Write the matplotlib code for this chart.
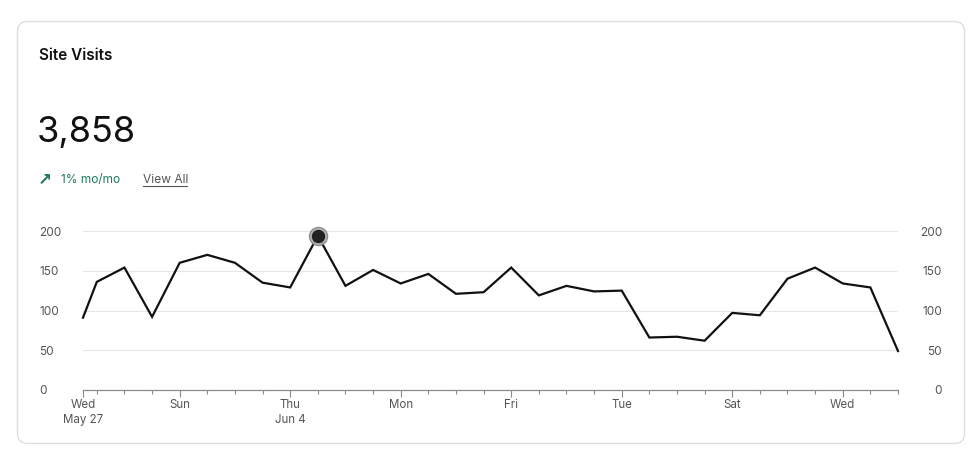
import matplotlib
matplotlib.use("Agg")
import matplotlib.pyplot as plt
import matplotlib.dates as mdates
from matplotlib.patches import FancyBboxPatch
from matplotlib.lines import Line2D
import numpy as np

# ---- data ----
start_time = "2026-05-27T12:00"
daily_start = "2026-05-28"
visits = [91, 136, 154, 92, 160, 170, 160, 135, 129, 194, 131,
          151, 134, 146, 121, 123, 154, 119, 131, 124, 125, 66,
          67, 62, 97, 94, 140, 154, 134, 129, 49]
tick_dates = ["2026-05-27T12:00", "2026-05-31", "2026-06-04", "2026-06-08",
              "2026-06-12", "2026-06-16", "2026-06-20", "2026-06-24"]
tick_labels = ["Wed\nMay 27", "Sun", "Thu\nJun 4", "Mon", "Fri", "Tue", "Sat", "Wed"]
y_ticks = [0, 50, 100, 150, 200]
title = "Site Visits"
total = "3,858"
change = "1% mo/mo"
link = "View All"
peak_index = 9

def to_num(arr):
    return mdates.date2num(np.asarray(arr).astype("datetime64[ms]").astype(object))

dates = np.concatenate([
    np.array([start_time], dtype="datetime64[m]"),
    np.arange(np.datetime64(daily_start), np.datetime64(daily_start) + np.timedelta64(len(visits) - 1, "D"),
              np.timedelta64(1, "D")).astype("datetime64[m]"),
])
x = to_num(dates)
tx = to_num(np.array(tick_dates, dtype="datetime64[m]"))

W, H = 977, 466
plt.rcParams['font.family'] = ['Inter', 'DejaVu Sans']
fig = plt.figure(figsize=(W / 100, H / 100), dpi=100)
fig.patch.set_facecolor("white")

# card
card = FancyBboxPatch((17.5, 22.5), 947, 422, boxstyle="round,pad=0,rounding_size=10",
                      transform=None, facecolor="white", edgecolor="#dedede", linewidth=1.0, zorder=-5)
fig.patches.append(card)

def fx(px):
    return px / W

def fy(py):
    return 1 - py / H

fig.text(fx(39), fy(56), title, fontsize=11, fontweight="semibold", color="#111111", va="center", ha="left")
fig.text(fx(37), fy(133), total, fontsize=26, color="#111111", va="center", ha="left")
fig.text(fx(38), fy(180), "\u2197", fontsize=12, fontweight="bold", color="#1b7a55", va="center", ha="left",
         family=["DejaVu Sans"])
fig.text(fx(61), fy(180), change, fontsize=8.6, color="#1b7a55", va="center", ha="left")
fig.text(fx(143), fy(180), link, fontsize=8.6, color="#555555", va="center", ha="left")
fig.add_artist(Line2D([fx(143), fx(187)], [fy(186), fy(186)], color="#555555", linewidth=0.8,
                      transform=fig.transFigure))

# axes
ax = fig.add_axes([fx(83), fy(390), fx(898) - fx(83), (390 - 231) / H])
ax.set_facecolor("none")
ax.plot(x, visits, color="#111111", linewidth=1.6, solid_joinstyle="miter", zorder=3, clip_on=False)
ax.scatter([x[peak_index]], [visits[peak_index]], s=170, color="#b0b0b0", edgecolor="#888888",
           linewidth=1.0, zorder=4, clip_on=False, alpha=0.9)
ax.scatter([x[peak_index]], [visits[peak_index]], s=75, color="#222222", zorder=5, clip_on=False)

ax.set_xlim(x[0], x[-1])
ax.set_ylim(0, 200)
ax.set_yticks(y_ticks)
ax.set_yticklabels([str(v) for v in y_ticks])
for v in y_ticks[1:]:
    ax.axhline(v, color="#e6e6e6", linewidth=0.8, zorder=1)

for s in ["top", "left", "right"]:
    ax.spines[s].set_visible(False)
ax.spines["bottom"].set_color("#8a8a8a")
ax.spines["bottom"].set_linewidth(0.9)

ax.tick_params(axis="y", length=0, labelsize=8.5, labelcolor="#555555", labelleft=True, labelright=True,
               pad=44 * 0.72)
for t in ax.yaxis.get_major_ticks():
    t.label1.set_horizontalalignment("left")
    t.label2.set_horizontalalignment("right")

ax.set_xticks(tx)
ax.set_xticklabels(tick_labels)
ax.set_xticks(x[1:], minor=True)
ax.tick_params(axis="x", which="major", length=5, width=0.8, color="#8a8a8a", labelsize=8.3,
               labelcolor="#555555", pad=1.5)
ax.tick_params(axis="x", which="minor", length=3, width=0.8, color="#8a8a8a")
for lab in ax.get_xticklabels():
    lab.set_linespacing(1.3)
    lab.set_verticalalignment("top")

fig.savefig("out.png", dpi=100, facecolor="white")
